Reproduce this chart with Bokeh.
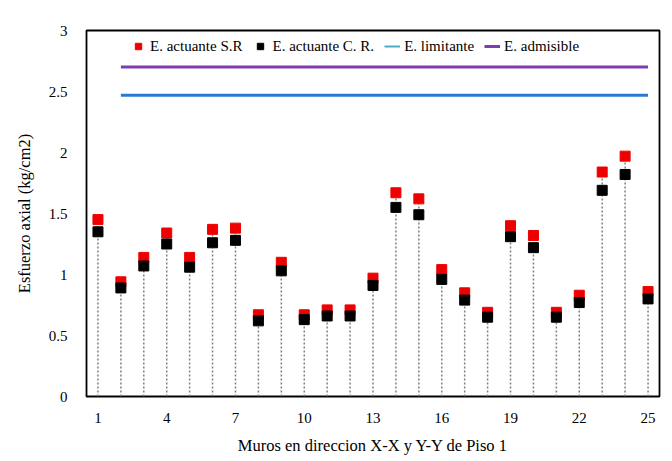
from bokeh.plotting import figure
from bokeh.models import ColumnDataSource, Legend, LegendItem, FixedTicker, Range1d
from bokeh.embed import file_html
from bokeh.resources import INLINE

muros = list(range(1, 26))
sr = [1.45, 0.94, 1.14, 1.34, 1.14, 1.37, 1.38, 0.67, 1.10, 0.67,
      0.71, 0.71, 0.97, 1.67, 1.62, 1.04, 0.85, 0.69, 1.40, 1.32,
      0.69, 0.83, 1.84, 1.97, 0.86]
cr = [1.35, 0.89, 1.07, 1.25, 1.06, 1.26, 1.28, 0.62, 1.03, 0.63,
      0.66, 0.66, 0.91, 1.55, 1.49, 0.96, 0.79, 0.65, 1.31, 1.22,
      0.65, 0.77, 1.69, 1.82, 0.80]
lim_x = [2, 25]
limitante = [2.47, 2.47]
admisible = [2.70, 2.70]
x_ticks = [1, 4, 7, 10, 13, 16, 19, 22, 25]
y_ticks = [0, 0.5, 1, 1.5, 2, 2.5, 3]

FONT = "Liberation Serif"

p = figure(width=672, height=461, output_backend="svg", toolbar_location=None,
           x_range=Range1d(0.5, 25.5), y_range=Range1d(0, 3),
           min_border_left=86, min_border_right=13, min_border_top=30, min_border_bottom=65)
p.outline_line_color = "black"
p.outline_line_width = 1.8
p.xgrid.visible = False
p.ygrid.visible = False
p.background_fill_color = "white"
p.border_fill_color = "white"

src = ColumnDataSource(dict(x=muros, sr=sr, cr=cr, zero=[0] * len(muros)))
p.segment(x0="x", y0="zero", x1="x", y1="sr", source=src, line_color="#808080",
          line_dash="2 2", line_width=1.5)

r_lim = p.line(lim_x, limitante, line_color="#2b78d4", line_width=3)
r_adm = p.line(lim_x, admisible, line_color="#7d3cb0", line_width=3)
# legend swatch for "E. limitante" (drawn outside the visible range)
r_lim_leg = p.line(lim_x, [-5, -5], line_color="#4bacc6", line_width=2)

r_sr = p.scatter(x="x", y="sr", source=src, marker="square", size=10,
                 fill_color="#ee0000", line_color="#ee0000")
r_cr = p.scatter(x="x", y="cr", source=src, marker="square", size=10,
                 fill_color="black", line_color="black")

legend = Legend(items=[
    LegendItem(label="E. actuante S.R", renderers=[r_sr]),
    LegendItem(label="E. actuante C. R.", renderers=[r_cr]),
    LegendItem(label="E. limitante", renderers=[r_lim_leg]),
    LegendItem(label="E. admisible", renderers=[r_adm]),
], orientation="horizontal", location=(44, 340))
legend.label_text_font = FONT
legend.label_text_font_size = "15px"
legend.label_text_color = "black"
legend.border_line_color = None
legend.background_fill_alpha = 0
legend.padding = 0
legend.margin = 0
legend.spacing = 10
legend.glyph_width = 16
legend.label_standoff = 4
p.add_layout(legend, "center")

for ax in (p.xaxis[0], p.yaxis[0]):
    ax.axis_line_color = None
    ax.major_tick_line_color = None
    ax.minor_tick_line_color = None
    ax.major_label_text_font = FONT
    ax.major_label_text_font_size = "15px"
    ax.major_label_text_color = "black"
    ax.axis_label_text_font = FONT
    ax.axis_label_text_font_size = "16.5px"
    ax.axis_label_text_font_style = "normal"
    ax.axis_label_text_color = "black"

p.xaxis.ticker = FixedTicker(ticks=x_ticks)
p.yaxis.ticker = FixedTicker(ticks=y_ticks)
p.xaxis.axis_label = "Muros en direccion X-X y Y-Y de Piso 1"
p.yaxis.axis_label = "Esfuerzo axial (kg/cm2)"
p.xaxis.major_label_standoff = 10
p.yaxis.major_label_standoff = 13
p.xaxis.axis_label_standoff = 10
p.yaxis.axis_label_standoff = 12

open("out.html", "w").write(file_html(p, INLINE))
